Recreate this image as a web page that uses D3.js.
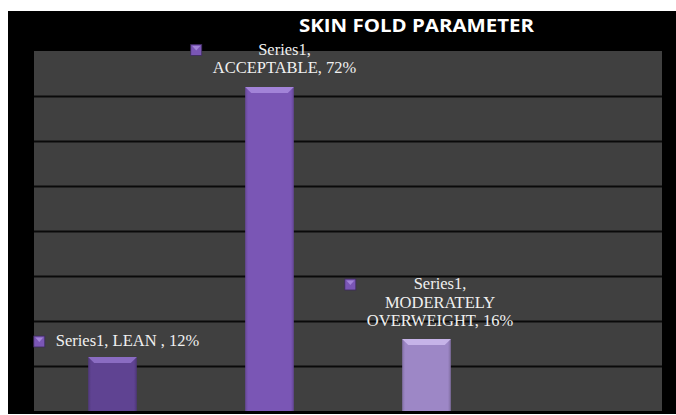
<!DOCTYPE html>
<html>
<head>
<meta charset="utf-8">
<script src="https://cdn.jsdelivr.net/npm/d3@7"></script>
<style>
  body { margin: 0; background: #ffffff; }
  svg { display: block; }
</style>
</head>
<body>
<script>
// Chart data.
const categories = ["LEAN ", "ACCEPTABLE", "MODERATELY OVERWEIGHT", ""];
const values = [0.12, 0.72, 0.16, null];
const seriesName = "Series1";
const yTicks = [0, 0.1, 0.2, 0.3, 0.4, 0.5, 0.6, 0.7, 0.8];

// Bar colours: base, bevel highlight, edge.
const barColors = ["#5f4392", "#7a56b5", "#9d87c6"];
const bevelColors = ["#8a6cc2", "#a283d8", "#c6b3e8"];

// Label layout: wrapped lines and shift from bar centre / bar top.
const labelLines = [
    ["Series1, LEAN , 12%"],
    ["Series1,", "ACCEPTABLE, 72%"],
    ["Series1,", "MODERATELY", "OVERWEIGHT, 16%"]
];
const labelShift = [[15, -11], [15, -14], [13.5, -13]];

const Width = 676, Height = 415;
const Plot = { left: 34, right: 662, top: 51, bottom: 411 };
const LineHeight = 18.5;

const svg = d3.select("body").append("svg")
    .attr("width", Width)
    .attr("height", Height);

const defs = svg.append("defs");

// Chart area (black).
svg.append("rect")
    .attr("x", 8).attr("y", 11)
    .attr("width", Width - 8).attr("height", 403)
    .attr("fill", "#000000");

// Plot area (dark gray).
svg.append("rect")
    .attr("x", Plot.left).attr("y", Plot.top)
    .attr("width", Plot.right - Plot.left).attr("height", Plot.bottom - Plot.top)
    .attr("fill", "#404040");

const x = d3.scaleBand()
    .domain(categories)
    .range([Plot.left, Plot.right])
    .paddingInner(0.69)
    .paddingOuter(0.345);

const y = d3.scaleLinear()
    .domain([0, 0.8])
    .range([Plot.bottom, Plot.top]);

// Gridlines.
svg.append("g")
    .attr("transform", `translate(${Plot.left},0)`)
    .call(d3.axisLeft(y).tickValues(yTicks.slice(1, -1))
        .tickSize(-(Plot.right - Plot.left)).tickFormat(""))
    .call(g => g.select(".domain").remove())
    .call(g => g.selectAll("line")
        .attr("stroke", "#0a0a0a")
        .attr("stroke-width", 2.2));

// Horizontal shading gradients for bars.
barColors.forEach((c, i) => {
    const grad = defs.append("linearGradient")
        .attr("id", "bar" + i)
        .attr("x1", "0").attr("x2", "1").attr("y1", "0").attr("y2", "0");
    grad.append("stop").attr("offset", "0").attr("stop-color", d3.color(c).darker(0.5));
    grad.append("stop").attr("offset", "0.06").attr("stop-color", c);
    grad.append("stop").attr("offset", "0.94").attr("stop-color", c);
    grad.append("stop").attr("offset", "1").attr("stop-color", d3.color(c).darker(0.6));
});

const bars = categories
    .map((c, i) => ({ cat: c, value: values[i], i: i }))
    .filter(d => d.value != null);

const barG = svg.append("g");

barG.selectAll("rect.bar")
    .data(bars)
    .join("rect")
    .attr("class", "bar")
    .attr("x", d => x(d.cat))
    .attr("y", d => y(d.value))
    .attr("width", x.bandwidth())
    .attr("height", d => y(0) - y(d.value))
    .attr("fill", d => `url(#bar${d.i})`);

// Top bevel highlight.
const Bevel = 6;
barG.selectAll("path.bevel")
    .data(bars)
    .join("path")
    .attr("class", "bevel")
    .attr("fill", d => bevelColors[d.i])
    .attr("d", d => {
        const x0 = x(d.cat), x1 = x0 + x.bandwidth(), t = y(d.value);
        return `M${x0},${t} L${x1},${t} L${x1 - Bevel},${t + Bevel} L${x0 + Bevel},${t + Bevel} Z`;
    });

// Data labels.
const labelG = svg.append("g")
    .attr("font-family", "'Liberation Serif', 'Times New Roman', serif")
    .attr("font-size", 16.5)
    .attr("fill", "#f0f0f0");

bars.forEach(d => {
    const lines = labelLines[d.i];
    const cx = x(d.cat) + x.bandwidth() / 2 + labelShift[d.i][0];
    const lastBase = y(d.value) + labelShift[d.i][1];
    const firstBase = lastBase - (lines.length - 1) * LineHeight;
    const t = labelG.append("text")
        .attr("text-anchor", "middle");
    lines.forEach((ln, k) => {
        t.append("tspan")
            .attr("x", cx)
            .attr("y", firstBase + k * LineHeight)
            .text(ln);
    });
    const bb = t.node().getBBox();
    // Legend key marker left of the label.
    const mx = bb.x - 22;
    labelG.append("rect")
        .attr("x", mx).attr("y", firstBase - 10)
        .attr("width", 11).attr("height", 11)
        .attr("fill", barColors[1])
        .attr("stroke", "#3d2a5c")
        .attr("stroke-width", 0.8);
    labelG.append("path")
        .attr("fill", bevelColors[1])
        .attr("d", `M${mx + 1.5},${firstBase - 8.5} L${mx + 9.5},${firstBase - 8.5} L${mx + 5.5},${firstBase - 4} Z`);
});

// Title.
svg.append("text")
    .attr("x", 416.5)
    .attr("y", 32)
    .attr("text-anchor", "middle")
    .attr("font-family", "'Open Sans', sans-serif")
    .attr("font-weight", "bold")
    .attr("font-size", 17.5)
    .attr("textLength", 235)
    .attr("lengthAdjust", "spacingAndGlyphs")
    .attr("fill", "#ffffff")
    .text("SKIN FOLD PARAMETER");
</script>
</body>
</html>
